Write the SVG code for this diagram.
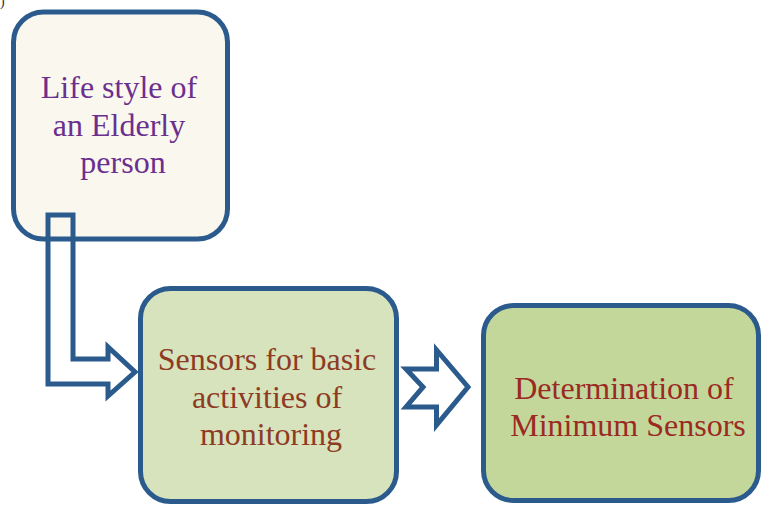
<svg xmlns="http://www.w3.org/2000/svg" width="761" height="505" viewBox="0 0 761 505">
  <style>
    .box { stroke: #2b5b8d; stroke-width: 5; }
    .lbl { font-size: 32px; text-anchor: middle; }
    .conn { fill: none; stroke: #2b5b8d; stroke-width: 5; stroke-linejoin: miter; }
  </style>
  <rect width="761" height="505" fill="#ffffff"/>
  <text x="0" y="6" font-family="Liberation Serif, serif" font-size="14" fill="#333">)</text>

  <g id="node-lifestyle">
    <rect class="box" x="13.5" y="12" width="214" height="227" rx="30" fill="#faf8ee"/>
    <text class="lbl" font-family="Liberation Serif, Times New Roman, serif" fill="#6b2f8e">
      <tspan x="123" y="98">Life style of</tspan>
      <tspan x="123" y="136">an Elderly</tspan>
      <tspan x="123" y="173">person</tspan>
    </text>
  </g>

  <g id="node-sensors">
    <rect class="box" x="140.5" y="288.5" width="256" height="213" rx="30" fill="#d7e3bc"/>
    <text class="lbl" font-family="Liberation Serif, Times New Roman, serif" fill="#8e3b24">
      <tspan x="271" y="370">Sensors for basic</tspan>
      <tspan x="271" y="408">activities of</tspan>
      <tspan x="271" y="445">monitoring</tspan>
    </text>
  </g>

  <g id="node-minimum">
    <rect class="box" x="483.5" y="305.5" width="275" height="195" rx="30" fill="#c4d79b"/>
    <text class="lbl" font-family="Liberation Serif, Times New Roman, serif" fill="#9a2a22">
      <tspan x="628" y="399">Determination of</tspan>
      <tspan x="628" y="436">Minimum Sensors</tspan>
    </text>
  </g>

  <g id="connectors">
    <path class="conn" d="M48,215 L73,215 L73,359 L108,359 L108,347 L135,372 L108,396 L108,384 L48,384 Z"/>
    <path class="conn" d="M406,369 L436.5,369 L436.5,350 L468,387 L436.5,425 L436.5,407 L406,407 L423,387 Z"/>
  </g>
</svg>
